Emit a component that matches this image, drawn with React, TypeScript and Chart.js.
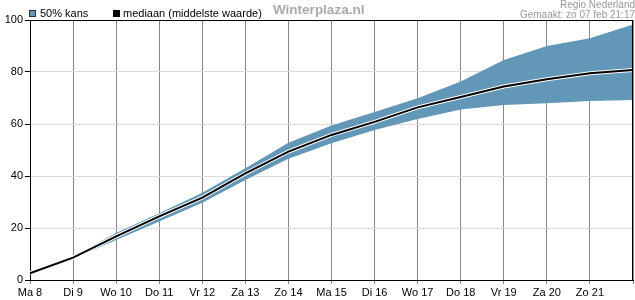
import React, { useEffect, useRef } from "react";
import { Chart, registerables } from "chart.js";

Chart.register(...registerables);

const dayLabels = ["Ma 8", "Di 9", "Wo 10", "Do 11", "Vr 12", "Za 13", "Zo 14", "Ma 15", "Di 16", "Wo 17", "Do 18", "Vr 19", "Za 20", "Zo 21", ""];
const medianValues = [2.6, 8.6, 16.8, 24.5, 31.7, 41, 49.4, 55.8, 60.8, 66.4, 70.4, 74.4, 77.2, 79.5, 80.8];
const upperValues = [2.9, 9.0, 18.1, 25.7, 33.6, 43, 52.8, 59.4, 64.6, 69.9, 76.3, 84.6, 90, 93, 98.3];
const lowerValues = [2.3, 8.3, 15.4, 22.5, 29.7, 38.5, 46.6, 52.6, 57.7, 61.9, 65.6, 67.3, 68, 68.8, 69.2];
const yTicks = [0, 20, 40, 60, 80, 100];

const legendBand = "50% kans";
const legendMedian = "mediaan (middelste waarde)";
const siteTitle = "Winterplaza.nl";
const regionText = "Regio Nederland";
const madeText = "Gemaakt: zo 07 feb 21:17";

const BAND = "rgb(99,151,184)";
const FONT = "'Liberation Sans', Arial, sans-serif";

export default function App() {
  const ref = useRef<HTMLCanvasElement | null>(null);
  useEffect(() => {
    if (!ref.current) return;
    const overlay = {
      id: "overlay",
      afterDraw(chart: any) {
        const ctx = chart.ctx;
        const a = chart.chartArea;
        ctx.save();
        ctx.strokeStyle = "#000";
        ctx.lineWidth = 1;
        ctx.beginPath();
        ctx.moveTo(a.left, Math.round(a.top) + 0.5);
        ctx.lineTo(a.right, Math.round(a.top) + 0.5);
        ctx.moveTo(Math.round(a.right) - 0.5, a.top);
        ctx.lineTo(Math.round(a.right) - 0.5, a.bottom);
        ctx.stroke();
        // legend
        ctx.font = "11px " + FONT;
        ctx.textBaseline = "middle";
        ctx.textAlign = "left";
        ctx.fillStyle = BAND;
        ctx.fillRect(29, 10, 7, 7);
        ctx.strokeStyle = "#333";
        ctx.strokeRect(29.5, 10.5, 6, 6);
        ctx.fillStyle = "#000";
        ctx.fillText(legendBand, 40, 13.5);
        ctx.fillRect(113, 10, 7, 7);
        ctx.fillText(legendMedian, 123, 13.5);
        // title
        ctx.font = "bold 13.5px " + FONT;
        ctx.fillStyle = "#aaa";
        ctx.fillText(siteTitle, 273, 10);
        ctx.font = "10px " + FONT;
        ctx.fillStyle = "#999";
        ctx.textAlign = "right";
        ctx.fillText(regionText, 635, 5);
        ctx.fillText(madeText, 635, 15);
        ctx.restore();
      },
    };
    const chart = new Chart(ref.current, {
      type: "line",
      data: {
        labels: dayLabels,
        datasets: [
          { label: "mediaan", data: medianValues, borderColor: "#000", borderWidth: 2, pointRadius: 0, fill: false, order: 1, tension: 0 },
          { label: "halo", data: medianValues, borderColor: "#fff", borderWidth: 4, pointRadius: 0, fill: false, order: 2, tension: 0 },
          { label: "upper", data: upperValues, borderColor: BAND, borderWidth: 0, pointRadius: 0, backgroundColor: BAND, fill: "+1", order: 3, tension: 0 },
          { label: "lower", data: lowerValues, borderColor: BAND, borderWidth: 0, pointRadius: 0, fill: false, order: 4, tension: 0 },
        ],
      },
      options: {
        animation: false,
        responsive: false,
        maintainAspectRatio: false,
        events: [],
        layout: { padding: { top: 20, right: 1, left: 0, bottom: 0 } },
        plugins: { legend: { display: false }, tooltip: { enabled: false }, title: { display: false } },
        scales: {
          x: {
            type: "category",
            offset: false,
            grid: { color: "#888", tickColor: "#888", tickLength: 4, drawOnChartArea: true },
            border: { color: "#000", width: 1 },
            ticks: { color: "#000", font: { family: FONT, size: 11 }, maxRotation: 0, autoSkip: false, padding: 2 },
            afterFit: (s: any) => { s.height = 20; },
          },
          y: {
            min: 0,
            max: 100,
            afterBuildTicks: (s: any) => { s.ticks = yTicks.map((v) => ({ value: v })); },
            grid: { color: "#ddd", tickColor: "#000", tickLength: 5 },
            border: { color: "#000", width: 1 },
            ticks: { color: "#000", font: { family: FONT, size: 11 }, padding: 2 },
            afterFit: (s: any) => { s.width = 30; },
          },
        },
      },
      plugins: [overlay],
    });
    return () => chart.destroy();
  }, []);
  return (
    <div style={{ position: "fixed", left: 0, top: 0, width: 635, height: 300, background: "#fff" }}>
      <canvas ref={ref} width={635} height={300} style={{ width: 635, height: 300, display: "block" }} />
    </div>
  );
}
